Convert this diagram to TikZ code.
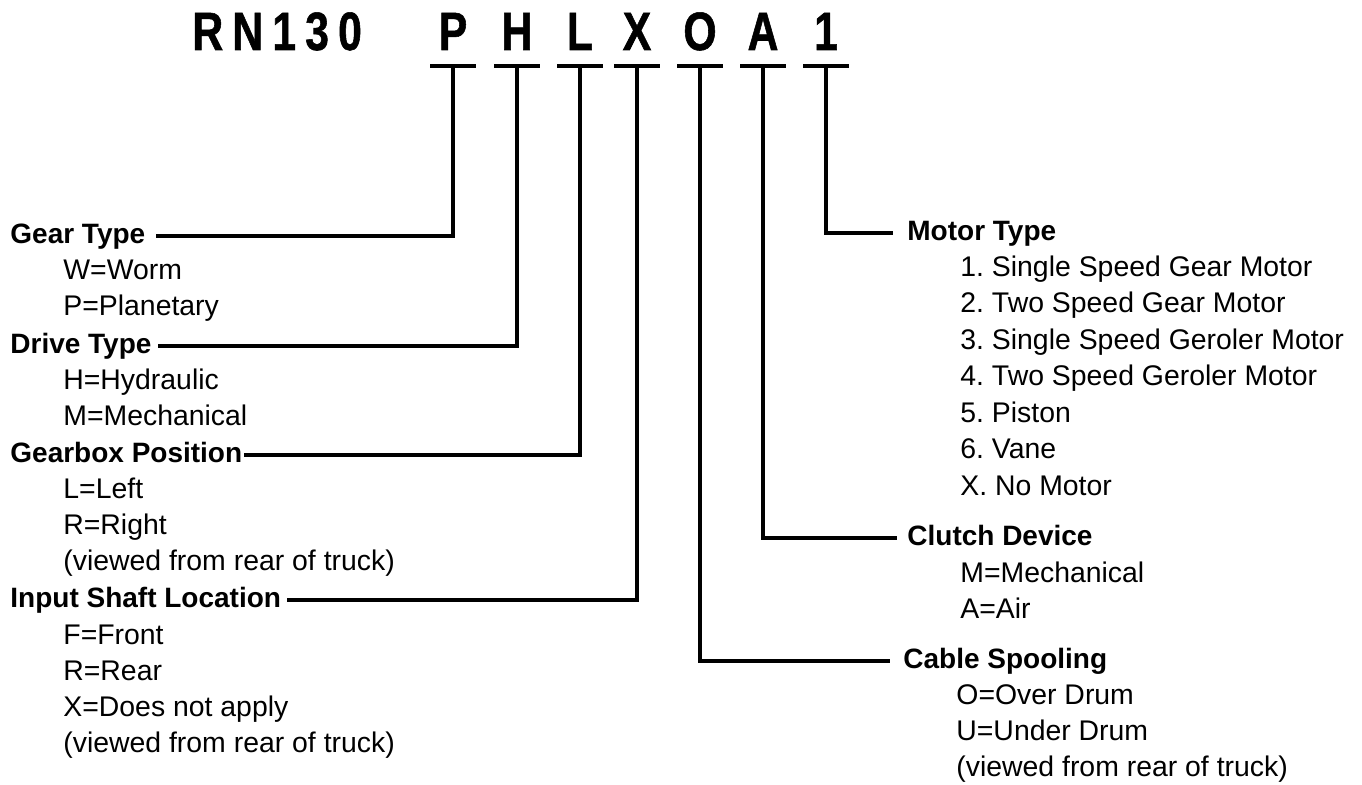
\documentclass[tikz,border=0pt]{standalone}
\usepackage{fontspec}
\setmainfont{Liberation Sans}
\newfontfamily\codefont[FakeStretch=0.79, FakeBold=1]{Liberation Sans Bold}
\newfontfamily\modelfont[FakeStretch=0.79, FakeBold=1, LetterSpace=17]{Liberation Sans Bold}
\usetikzlibrary{positioning,calc}
\tikzset{
  code/.style={font=\codefont\fontsize{27}{27}\selectfont, inner sep=0pt, anchor=base},
  head/.style={anchor=west, inner sep=0pt, text height=0.72em, text depth=0pt,
    font=\bfseries\fontsize{14}{14}\selectfont},
  item/.style={anchor=west, inner sep=0pt, text height=0.72em, text depth=0pt,
    font=\fontsize{14.2}{14.2}\selectfont},
  bar/.style={line width=2pt},
  lead/.style={line width=1.6pt, line join=miter}
}
\frenchspacing
\begin{document}
\begin{tikzpicture}[x=0.5pt, y=-0.5pt]
    \useasboundingbox (0,0) rectangle (1362,785);
    % model code
    \node[code, anchor=base west, font=\modelfont\fontsize{27}{27}\selectfont] (model) at (192,50) {RN130};
    \foreach \name/\xx/\txt in {P/453/P, H/517/H, L/580/L, X/637/X, O/700/O, A/763/A, one/826/1} {
      \node[code] (c\name) at (\xx,50) {\txt};
      \coordinate (t\name) at (\xx,66);
      \draw[bar] ($(t\name)+(-23,0)$) -- ($(t\name)+(23,0)$);
    }
    % left column
    \node[head] (gear) at (10,236) {Gear Type};
      \node[item] (gearW) at (63,272) {W=Worm};
      \node[item] (gearP) at (63,308) {P=Planetary};
    \node[head] (drive) at (10,346) {Drive Type};
      \node[item] (driveH) at (63,382) {H=Hydraulic};
      \node[item] (driveM) at (63,418) {M=Mechanical};
    \node[head] (gearbox) at (10,455) {Gearbox Position};
      \node[item] (boxL) at (63,491) {L=Left};
      \node[item] (boxR) at (63,527) {R=Right};
      \node[item] (boxV) at (63,563) {(viewed from rear of truck)};
    \node[head] (input) at (10,600) {Input Shaft Location};
      \node[item] (inF) at (63,637) {F=Front};
      \node[item] (inR) at (63,673) {R=Rear};
      \node[item] (inX) at (63,709) {X=Does not apply};
      \node[item] (inV) at (63,745) {(viewed from rear of truck)};
    % right column
    \node[head] (motor) at (907,233) {Motor Type};
      \node[item] (mot1) at (960,269) {1. Single Speed Gear Motor};
      \node[item] (mot2) at (960,305) {2. Two Speed Gear Motor};
      \node[item] (mot3) at (960,342) {3. Single Speed Geroler Motor};
      \node[item] (mot4) at (960,378) {4. Two Speed Geroler Motor};
      \node[item] (mot5) at (960,415) {5. Piston};
      \node[item] (mot6) at (960,451) {6. Vane};
      \node[item] (motX) at (960,488) {X. No Motor};
    \node[head] (clutch) at (907,538) {Clutch Device};
      \node[item] (clM) at (960,575) {M=Mechanical};
      \node[item] (clA) at (960,611) {A=Air};
    \node[head] (cable) at (903,661) {Cable Spooling};
      \node[item] (cabO) at (956,697) {O=Over Drum};
      \node[item] (cabU) at (956,733) {U=Under Drum};
      \node[item] (cabV) at (956,769) {(viewed from rear of truck)};
    % leads
    \draw[lead] (tP) |- ([xshift=5pt]gear.east);
    \draw[lead] (tH) |- ([xshift=3pt]drive.east);
    \draw[lead] (tL) |- ([xshift=0.5pt]gearbox.east);
    \draw[lead] (tX) |- ([xshift=3pt]input.east);
    \draw[lead] (tone) |- ([xshift=-7pt]motor.west);
    \draw[lead] (tA) |- ([xshift=-5pt]clutch.west);
    \draw[lead] (tO) |- ([xshift=-6.5pt]cable.west);
\end{tikzpicture}
\end{document}
